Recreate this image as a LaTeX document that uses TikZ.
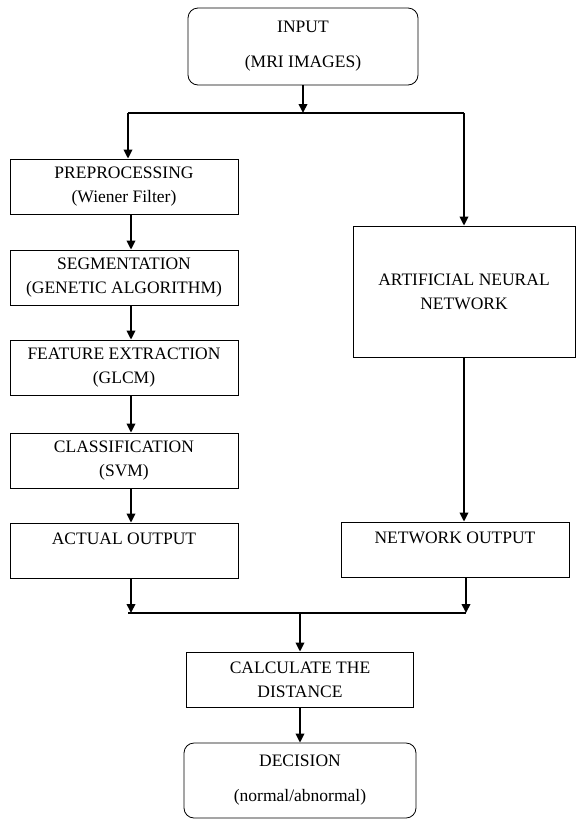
\documentclass[tikz,border=0pt]{standalone}
\usepackage{fontspec}
\setmainfont{Liberation Serif}
\usetikzlibrary{arrows.meta}
\tikzset{
  procbox/.style={draw, line width=0.8pt, minimum width=228pt, minimum height=55pt,
    align=center, inner sep=0pt, font=\fontsize{17.5}{24}\selectfont},
  termbox/.style={procbox, rounded corners=10pt, font=\fontsize{17.5}{35}\selectfont},
  flow/.style={line width=1.9pt, -{Triangle[length=9pt,width=8.5pt]}},
  link/.style={line width=1.9pt},
}
\begin{document}
\begin{tikzpicture}[x=1pt,y=-1pt]
    \useasboundingbox (0,0) rectangle (576,820);

    \node[termbox, minimum width=230pt, minimum height=77pt] (input) at (303,46.5) {INPUT\\(MRI IMAGES)};

    % left column
    \node[procbox] (pre) at (124,186.5) {PREPROCESSING\\(Wiener Filter)};
    \node[procbox] (seg) at (124,277.5) {SEGMENTATION\\(GENETIC ALGORITHM)};
    \node[procbox] (feat) at (124,367.5) {FEATURE EXTRACTION\\(GLCM)};
    \node[procbox] (cls) at (124,460.5) {CLASSIFICATION\\(SVM)};
    \node[procbox] (act) at (124,550.5) {ACTUAL OUTPUT\\\mbox{}};

    % right column
    \node[procbox, minimum width=222pt, minimum height=131pt] (ann) at (464,291.5) {ARTIFICIAL NEURAL\\NETWORK};
    \node[procbox] (net) at (455,549.5) {NETWORK OUTPUT\\\mbox{}};

    \node[procbox, minimum width=227pt] (calc) at (300,679.5) {CALCULATE THE\\DISTANCE};
    \node[termbox, minimum width=232pt, minimum height=75pt] (dec) at (300,780.5) {DECISION\\(normal/abnormal)};

    \coordinate (split) at (303,113);
    \coordinate (splitL) at (128,113);
    \coordinate (splitR) at (464,113);
    \coordinate (colL) at (131,0);
    \coordinate (mergeL) at (128,613);
    \coordinate (mergeR) at (466,613);

    \draw[flow] (input.south) -- (split);
    \draw[link] (splitL) -- (splitR);
    \draw[flow] (splitL) -- (pre.north -| splitL);
    \draw[flow] (splitR) -- (ann.north);

    \draw[flow] (pre.south -| colL) -- (seg.north -| colL);
    \draw[flow] (seg.south -| colL) -- (feat.north -| colL);
    \draw[flow] (feat.south -| colL) -- (cls.north -| colL);
    \draw[flow] (cls.south -| colL) -- (act.north -| colL);
    \draw[flow] (act.south -| colL) -- (mergeL -| colL);

    \draw[flow] (ann.south) -- (net.north -| ann.south);
    \draw[flow] (net.south -| mergeR) -- (mergeR);
    \draw[link] (mergeL) -- (mergeR);

    \draw[flow] (calc.north |- mergeL) -- (calc.north);
    \draw[flow] (calc.south) -- (dec.north);
\end{tikzpicture}
\end{document}
